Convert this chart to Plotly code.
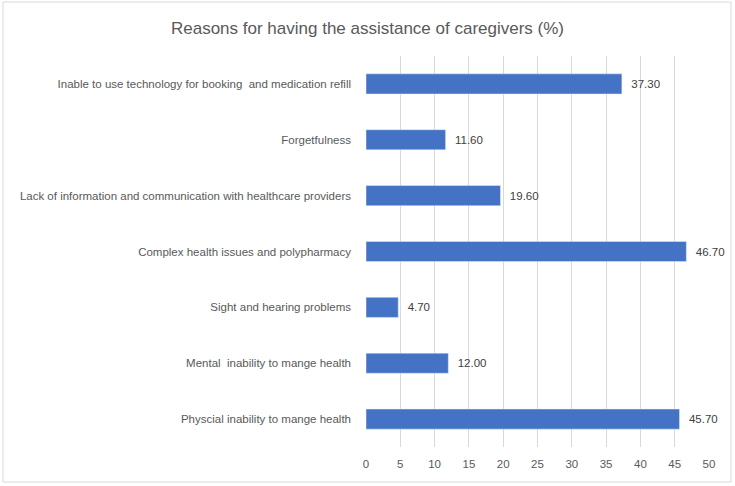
import plotly.graph_objects as go

# categories listed bottom to top, as plotly draws them
reasons = [
    "Physcial inability to mange health",
    "Mental  inability to mange health",
    "Sight and hearing problems",
    "Complex health issues and polypharmacy",
    "Lack of information and communication with healthcare providers",
    "Forgetfulness",
    "Inable to use technology for booking  and medication refill",
]
percent = [45.7, 12.0, 4.7, 46.7, 19.6, 11.6, 37.3]
x_ticks = [0, 5, 10, 15, 20, 25, 30, 35, 40, 45, 50]

W, H = 735, 486
ml, mr, mt, mb = 366, 26, 56, 39

fig = go.Figure()
fig.add_trace(go.Bar(
    y=reasons,
    x=percent,
    orientation="h",
    marker=dict(color="#4472C4"),
    text=["\u00a0\u00a0" + f"{v:.2f}" for v in percent],
    textposition="outside",
    cliponaxis=False,
    textfont=dict(size=11.5, color="#404040"),
    showlegend=False,
))

pw = W - ml - mr
ph = H - mt - mb
# light frame round the whole chart
fig.add_shape(type="rect", xref="paper", yref="paper",
              x0=-(ml - 3) / pw, x1=1 + (mr - 4) / pw,
              y0=-(mb - 4) / ph, y1=1 + (mt - 2) / ph,
              line=dict(color="#D9D9D9", width=1))

fig.update_layout(
    width=W, height=H,
    margin=dict(l=ml, r=mr, t=mt, b=mb),
    paper_bgcolor="white",
    plot_bgcolor="white",
    bargap=0.64,
    font=dict(family="Liberation Sans", size=11.5, color="#595959"),
    title=dict(text="Reasons for having the assistance of caregivers (%)",
               xref="paper", xanchor="center",
               y=1 - 28 / H, yanchor="middle",
               font=dict(size=17, color="#595959")),
)
fig.layout.title.x = (W / 2 - ml) / pw
fig.update_xaxes(range=[0, 50], tickvals=x_ticks, showgrid=True,
                 gridcolor="#D9D9D9", gridwidth=1, zeroline=False,
                 showline=False, ticks="", tickfont=dict(size=11.5),
                 ticklabelstandoff=8, fixedrange=True)
fig.update_yaxes(showgrid=False, ticks="", ticklabelstandoff=14,
                 showline=False, tickfont=dict(size=11.5))

fig.write_html("out.html", config={"displayModeBar": False},
               post_script="document.body.style.margin='0';")
